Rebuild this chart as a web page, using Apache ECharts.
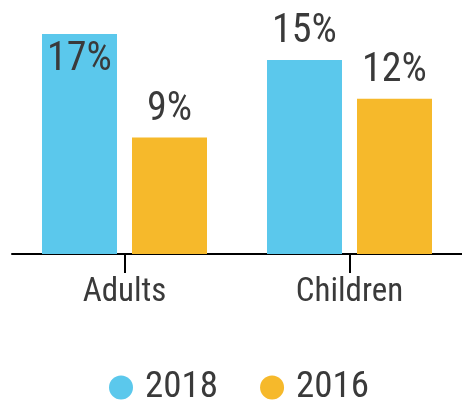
<!DOCTYPE html>
<html>
<head>
<meta charset="utf-8">
<script src="https://cdn.jsdelivr.net/npm/echarts@6/dist/echarts.min.js"></script>
<style>
  html, body { margin: 0; padding: 0; background: #fff; }
  #chart { width: 462px; height: 400px; }
</style>
</head>
<body>
<div id="chart"></div>
<script>
const categories = ['Adults', 'Children']
const values2018 = [17, 15]
const values2016 = [9, 12]
const seriesNames = ['2018', '2016']

const FONT = '"Roboto Condensed", "Liberation Sans Narrow", Roboto, sans-serif'
const TEXT = '#3a3a3a'

const chart = echarts.init(document.getElementById('chart'))

const barLabel = {
  show: true,
  position: 'top',
  distance: 8,
  formatter: '{c}%',
  fontFamily: FONT,
  fontSize: 40,
  color: TEXT,
}

chart.setOption({
  animation: false,
  grid: { top: 34, left: 12, right: -2, bottom: 146 },
  legend: {
    left: 104,
    top: 364,
    icon: 'circle',
    itemWidth: 24,
    itemHeight: 24,
    itemGap: 42,
    textStyle: { fontFamily: FONT, fontSize: 37, color: TEXT, padding: [0, 0, 0, 7] },
    data: seriesNames,
  },
  xAxis: {
    type: 'category',
    data: categories,
    axisLine: { lineStyle: { color: '#000', width: 2 } },
    axisTick: { show: true, alignWithLabel: true, length: 19, lineStyle: { color: '#000', width: 2 } },
    axisLabel: { fontFamily: FONT, fontSize: 33, color: TEXT, margin: 22 },
  },
  yAxis: {
    type: 'value',
    min: 0,
    max: 17,
    show: false,
    splitLine: { show: false },
  },
  series: [
    {
      name: seriesNames[0],
      type: 'bar',
      barWidth: 75,
      barGap: '20%',
      itemStyle: { color: '#5BC8EC' },
      // the tallest bar carries its label inside, the rest sit above
      data: values2018.map((v) => ({
        value: v,
        label: v >= 17 ? { position: 'insideTop', distance: 6 } : {},
      })),
      label: barLabel,
    },
    {
      name: seriesNames[1],
      type: 'bar',
      barWidth: 75,
      itemStyle: { color: '#F6B92B' },
      data: values2016,
      label: barLabel,
    },
  ],
})
</script>
</body>
</html>
